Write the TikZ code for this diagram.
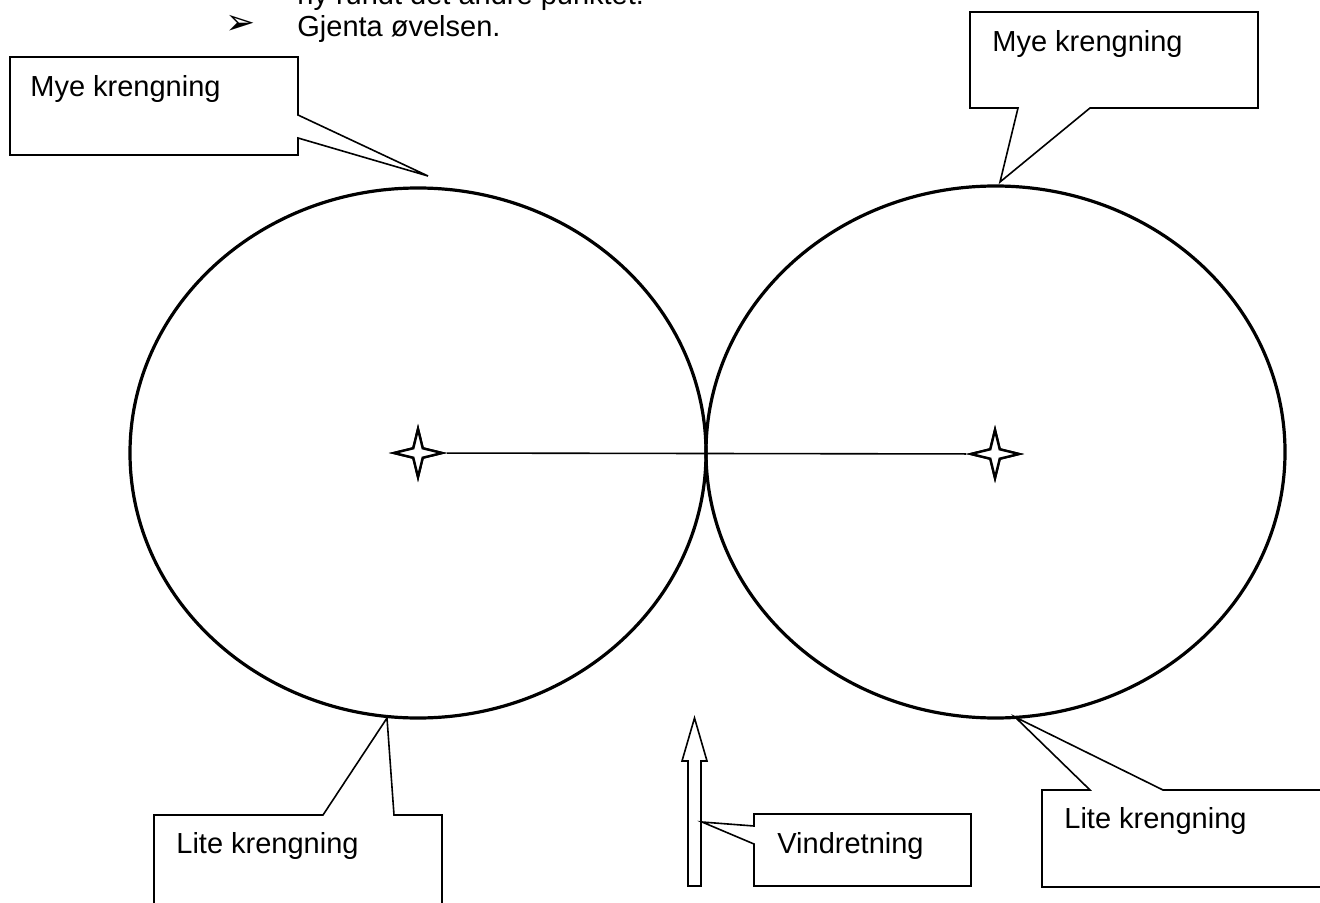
\documentclass[tikz,border=0pt]{standalone}
\usepackage{fontspec}
\setmainfont{Liberation Sans}
\newfontfamily\symfont{DejaVu Sans}
\usetikzlibrary{shapes.geometric}
\begin{document}
\begin{tikzpicture}[x=0.5pt,y=-0.5pt,
  callout/.style={draw=black, line width=0.8pt, fill=white, line join=miter},
  lbl/.style={anchor=base west, inner sep=0pt, font=\fontsize{14.5}{17}\selectfont},
  ring/.style={draw=black, line width=1.6pt},
  starnode/.style={star, star points=4, star point ratio=3.6, minimum size=24pt, inner sep=0pt, draw=black, line width=1.2pt, fill=white},
  axis/.style={draw=black, line width=0.8pt},
  windarrow/.style={draw=black, line width=0.8pt, fill=white, line join=miter},
]
\useasboundingbox (0,0) rectangle (1320,903);
\clip (0,0) rectangle (1320,903);

% top text (cut off at the top edge, as in the reference)
\node[lbl] (t1) at (297,5) {ny rundt det andre punktet.};
\node[anchor=base west, inner sep=0pt, font=\symfont\fontsize{18}{20}\selectfont] (bul) at (225,35) {➢};
\node[lbl] (t2) at (297,37) {Gjenta øvelsen.};

% circles
\draw[ring] (418,453) ellipse [x radius=144pt, y radius=132.5pt];
\draw[ring] (995.5,452) ellipse [x radius=144.75pt, y radius=133pt];

% stars and axis
\node[starnode] (s1) at (418,453) {};
\node[starnode] (s2) at (995,454) {};
\draw[axis] (s1) -- (s2);
\node[starnode] at (418,453) {};
\node[starnode] at (995,454) {};

% top-left callout
\draw[callout] (10,57) -- (298,57) -- (298,115) -- (428,176) -- (298,138) -- (298,155) -- (10,155) -- cycle;
\node[lbl] (mk1) at (30,97) {Mye krengning};

% top-right callout
\draw[callout] (970,12) -- (1258,12) -- (1258,108) -- (1090,108) -- (1000,182) -- (1018,108) -- (970,108) -- cycle;
\node[lbl] (mk2) at (992,52) {Mye krengning};

% bottom-left callout
\draw[callout] (154,815) -- (323,815) -- (387,718) -- (394,815) -- (442,815) -- (442,920) -- (154,920) -- cycle;
\node[lbl] (lk1) at (176,853) {Lite krengning};

% wind arrow
\draw[windarrow] (688,886) -- (688,761) -- (682,761) -- (694.5,718) -- (707,761) -- (701,761) -- (701,886) -- cycle;

% Vindretning callout
\draw[callout] (754,814) -- (971,814) -- (971,886) -- (754,886) -- (754,844) -- (702,822) -- (754,826) -- cycle;
\node[lbl] (vr) at (777,853) {Vindretning};

% bottom-right callout
\draw[callout] (1042,790) -- (1090,790) -- (1015,717) -- (1163,790) -- (1340,790) -- (1340,887) -- (1042,887) -- cycle;
\node[lbl] (lk2) at (1064,828) {Lite krengning};
\end{tikzpicture}
\end{document}
